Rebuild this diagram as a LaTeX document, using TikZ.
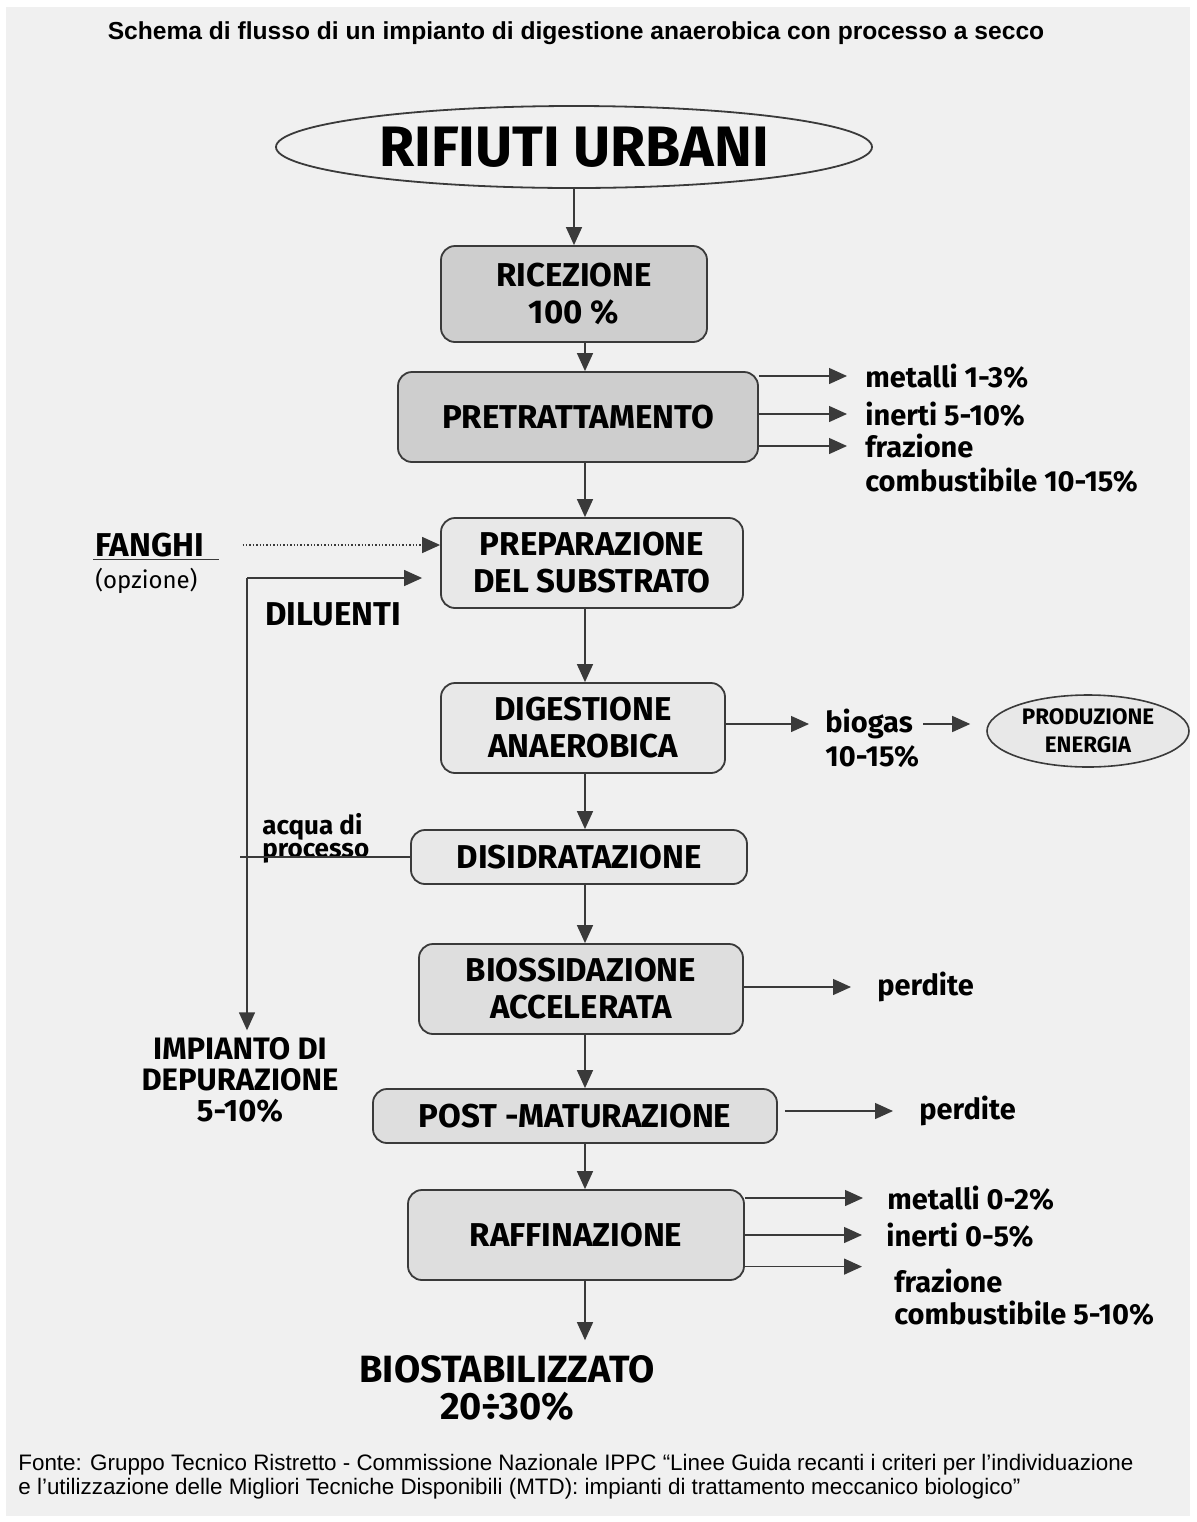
\documentclass[tikz,border=0pt]{standalone}
\usepackage{fontspec}
\setmainfont{Fira Sans}
\newfontfamily\arialfont{Liberation Sans}
\usetikzlibrary{arrows.meta,shapes.geometric,positioning}
\definecolor{bgpanel}{HTML}{F0F0F0}
\definecolor{boxdark}{HTML}{CECECE}
\definecolor{boxmid}{HTML}{DEDEDE}
\definecolor{boxlight}{HTML}{E8E8E8}
\definecolor{inkline}{HTML}{3A3A3A}

\begin{document}
\begin{tikzpicture}[x=0.5pt,y=-0.5pt,
  box/.style={draw=inkline,line width=0.9pt,rounded corners=7pt,align=center,
    font=\fontsize{16.5}{18.5}\selectfont\bfseries},
  arr/.style={-{Triangle[length=9pt,width=8pt]},line width=0.7pt,draw=inkline},
  lab/.style={anchor=west,inner sep=1pt,font=\fontsize{14.5}{16}\selectfont\bfseries}]
  % panel
  \fill[white] (0,0) rectangle (1196,1522);
  \fill[bgpanel] (6,7) rectangle (1190,1516);
  \node[font=\arialfont\bfseries\fontsize{12.3}{14}\selectfont] (title) at (576,33)
    {Schema di flusso di un impianto di digestione anaerobica con processo a secco};

  % main line
  \node[ellipse,draw=inkline,line width=0.9pt,minimum width=298pt,minimum height=41pt,
    font=\fontsize{28.5}{30}\selectfont\bfseries] (rif) at (574,147) {RIFIUTI URBANI};
  \node[box,fill=boxdark,minimum width=133pt,minimum height=48pt] (ric) at (574,294) {RICEZIONE\\100 \%};
  \node[box,fill=boxdark,minimum width=180pt,minimum height=45pt] (pre) at (578,417) {PRETRATTAMENTO};
  \node[box,fill=boxlight,minimum width=151pt,minimum height=45pt] (prep) at (592,563) {PREPARAZIONE\\DEL SUBSTRATO};
  \node[box,fill=boxlight,minimum width=142pt,minimum height=45pt] (dig) at (583,728) {DIGESTIONE\\ANAEROBICA};
  \node[box,fill=boxlight,minimum width=168pt,minimum height=27pt] (dis) at (579,857) {DISIDRATAZIONE};
  \node[box,fill=boxmid,minimum width=162pt,minimum height=45pt] (bio) at (581,989) {BIOSSIDAZIONE\\ACCELERATA};
  \node[box,fill=boxmid,minimum width=202pt,minimum height=27pt] (post) at (575,1116) {POST -MATURAZIONE};
  \node[box,fill=boxmid,minimum width=168pt,minimum height=45pt] (raf) at (576,1235) {RAFFINAZIONE};
  \node[align=center,font=\fontsize{19}{18.5}\selectfont\bfseries] (bst) at (507,1388) {BIOSTABILIZZATO\\20÷30\%};

  \coordinate (sp) at (585,0);
  \draw[arr] (rif.south) -- (ric.north);
  \foreach \a/\b in {ric/pre,pre/prep,prep/dig,dig/dis,dis/bio,bio/post,post/raf}
    \draw[arr] (\a.south -| sp) -- (\b.north -| sp);
  \draw[arr,shorten >=4pt] (raf.south -| sp) -- (bst.north -| sp);

  % scarti pretrattamento
  \node[lab] (m1) at (863,376) {metalli 1-3\%};
  \node[lab] (i1) at (863,414) {inerti 5-10\%};
  \node[lab] (f1) at (863,446) {frazione};
  \node[lab] (c1) at (863,480) {combustibile 10-15\%};
  \foreach \n in {m1,i1,f1}
    \draw[arr,shorten >=8pt] (pre.east |- \n) -- (\n.west);

  % ingressi al substrato
  \node[lab,font=\fontsize{16.5}{16}\selectfont\bfseries] (fan) at (93,545) {FANGHI};
  \draw[line width=0.9pt,inkline] (fan.south west) -- ([xshift=6pt]fan.south east);
  \node[lab,font=\fontsize{12}{16}\selectfont] (opz) at (93,581) {(opzione)};
  \draw[arr,densely dotted] ([xshift=18pt]fan.east) -- (prep.west |- fan);
  \node[lab,font=\fontsize{16.5}{16}\selectfont\bfseries] (dil) at (263,614) {DILUENTI};
  \node[lab,align=left,font=\fontsize{13}{11.5}\selectfont\bfseries] (acq) at (260,838) {acqua di\\processo};
  \node[align=center,font=\fontsize{15.5}{15.5}\selectfont\bfseries] (dep) at (240,1080)
    {IMPIANTO DI\\DEPURAZIONE\\5-10\%};
  \coordinate (ret) at (247,578);
  \coordinate (acqend) at (240,862);
  \draw[arr,shorten >=9pt] (ret) -- (prep.west |- ret);
  \draw[arr] (ret) -- (dep.north -| ret);
  \draw[line width=0.7pt,inkline] (dis.west) -- (dis.west -| acqend);

  % biogas
  \node[lab] (bgs) at (823,724) {biogas};
  \node[lab] (bgp) at (823,757) {10-15\%};
  \node[ellipse,draw=inkline,fill=boxlight,line width=0.8pt,minimum width=101pt,minimum height=36pt,
    inner sep=0pt,align=center,font=\fontsize{11.2}{14}\selectfont\bfseries] (ene) at (1088,731) {PRODUZIONE\\ENERGIA};
  \draw[arr,shorten >=7pt] (dig.east |- bgs) -- (bgs.west);
  \draw[arr,shorten <=4pt,shorten >=8pt] (bgs.east) -- (ene.west |- bgs);

  % perdite
  \node[lab] (per1) at (875,987) {perdite};
  \node[lab] (per2) at (917,1111) {perdite};
  \draw[arr,shorten >=12pt] (bio.east |- per1) -- (per1.west);
  \draw[arr,shorten <=3.5pt,shorten >=12pt] (post.east |- per2) -- (per2.west);

  % scarti raffinazione
  \node[lab] (m2) at (885,1198) {metalli 0-2\%};
  \node[lab] (i2) at (884,1235) {inerti 0-5\%};
  \node[lab] (f2) at (892,1281) {frazione};
  \node[lab] (c2) at (892,1313) {combustibile 5-10\%};
  \draw[arr,shorten >=11pt] (raf.east |- m2) -- (m2.west);
  \draw[arr,shorten >=11pt] (raf.east |- i2) -- (i2.west);
  \draw[arr,shorten >=15pt] (raf.east |- f2.north west) -- (f2.north west);

  % fonte
  \node[anchor=north west,align=left,inner sep=0pt,font=\arialfont\fontsize{11.2}{12}\selectfont] (src) at (18,1454)
    {Fonte: Gruppo Tecnico Ristretto - Commissione Nazionale IPPC “Linee Guida recanti i criteri per l’individuazione\\
     e l’utilizzazione delle Migliori Tecniche Disponibili (MTD): impianti di trattamento meccanico biologico”};
\end{tikzpicture}
\end{document}
